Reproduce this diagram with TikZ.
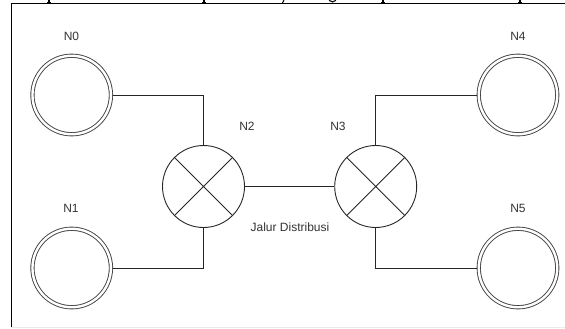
\documentclass[tikz,border=0pt]{standalone}
\usepackage{fontspec}
\setmainfont{Liberation Sans}
\begin{document}
\begin{tikzpicture}[x=1pt,y=-1pt,
  endnode/.style={circle,draw=black!75,line width=0.9pt,double=white,double distance=2.4pt,minimum size=78.5pt,inner sep=0pt,outer sep=1.75pt},
  hubnode/.style={circle,draw=black!85,line width=0.9pt,minimum size=82pt,inner sep=0pt,
    path picture={\draw[line width=0.9pt,black!85] (path picture bounding box.north west) -- (path picture bounding box.south east)
      (path picture bounding box.north east) -- (path picture bounding box.south west);}},
  lbl/.style={font=\fontsize{12}{14}\selectfont,text=black!80,inner sep=0pt},
  wire/.style={line width=0.9pt,black!85},
  frag/.style={line width=1.1pt,black}]
\useasboundingbox (0,0) rectangle (565,329);
% frame
\draw[line width=1pt] (11,3.5) -- (565,3.5);
\draw[line width=1pt] (11,3.5) -- (11,327);
\draw[black!8,line width=1pt] (11,327.5) -- (565,327.5);
% cut-off glyph descenders above the frame
\draw[frag] (49,0) -- (49,3) (47,3) -- (51,3);
\draw[frag] (204,0) -- (204,3) (202,3) -- (206,3);
\draw[frag] (284,0) -- (282.5,3);
\draw[frag] (329,0.3) .. controls (331,2.5) and (334,2.5) .. (336,0.3);
\draw[frag] (383,0) -- (383,3) (381,3) -- (385,3);
\draw[frag] (520,0) -- (520,3) (518,3) -- (522,3);
% nodes
\node[endnode] (N0) at (71.7,95) {};
\node[endnode] (N1) at (71.7,268) {};
\node[endnode] (N4) at (518,95) {};
\node[endnode] (N5) at (518,268) {};
\node[hubnode] (N2) at (203.5,186.5) {};
\node[hubnode] (N3) at (375.7,186.5) {};
% labels
\node[lbl] (l0) at (71.5,36) {N0};
\node[lbl] (l1) at (71,208) {N1};
\node[lbl] (l4) at (518,36) {N4};
\node[lbl] (l5) at (518,208) {N5};
\node[lbl] (l2) at (247,126) {N2};
\node[lbl] (l3) at (338,126) {N3};
\node[lbl] (lj) at (290,227) {Jalur Distribusi};
% connectors
\draw[wire] (N0.east) -| (N2.north);
\draw[wire] (N1.east) -| (N2.south);
\draw[wire] (N2.east) -- (N3.west);
\draw[wire] (N4.west) -| (N3.north);
\draw[wire] (N5.west) -| (N3.south);
\end{tikzpicture}
\end{document}
